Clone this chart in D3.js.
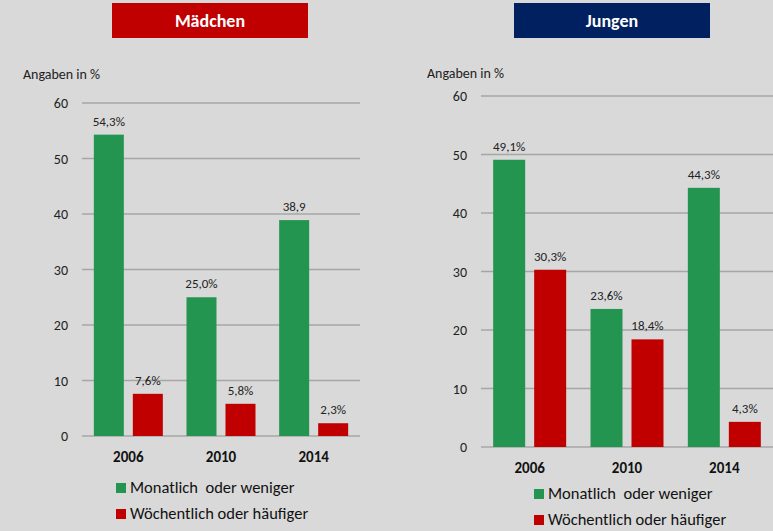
<!DOCTYPE html>
<html>
<head>
<meta charset="utf-8">
<script src="https://cdn.jsdelivr.net/npm/d3@7"></script>
<style>
  body { margin: 0; background: #d9d9d9; }
  svg { display: block; font-family: Calibri, Carlito, Lato, sans-serif; }
</style>
</head>
<body>
<svg id="chart" width="773" height="531"></svg>
<script>
// data
var years = ["2006", "2010", "2014"];
var seriesNames = ["Monatlich  oder weniger", "Wöchentlich oder häufiger"];
var yTicks = [0, 10, 20, 30, 40, 50, 60];

var maedchenMonthly = [54.3, 25.0, 38.9];
var maedchenWeekly = [7.6, 5.8, 2.3];
var maedchenLabelsMonthly = ["54,3%", "25,0%", "38,9"];
var maedchenLabelsWeekly = ["7,6%", "5,8%", "2,3%"];

var jungenMonthly = [49.1, 23.6, 44.3];
var jungenWeekly = [30.3, 18.4, 4.3];
var jungenLabelsMonthly = ["49,1%", "23,6%", "44,3%"];
var jungenLabelsWeekly = ["30,3%", "18,4%", "4,3%"];

var colors = ["#239550", "#c00000"];

var svg = d3.select("#chart");

function drawPanel(opt) {
  var g = svg.append("g");

  // title box
  g.append("rect")
    .attr("x", opt.titleX).attr("y", 3)
    .attr("width", 196).attr("height", 35)
    .attr("fill", opt.titleColor);
  g.append("text")
    .attr("x", opt.titleX + 98).attr("y", 27)
    .attr("text-anchor", "middle")
    .attr("fill", "#fff")
    .style("font-weight", "bold")
    .style("font-size", "18px")
    .text(opt.title);

  g.append("text")
    .attr("x", opt.unitX).attr("y", opt.unitY)
    .attr("fill", "#222")
    .style("font-size", "14px")
    .text("Angaben in %");

  var y = d3.scaleLinear().domain([0, 60]).range([opt.y0, opt.y60]);
  var x0 = d3.scaleBand().domain(years).range([opt.left, opt.right]);

  // gridlines
  g.selectAll(".grid")
    .data(yTicks).enter().append("line")
    .attr("x1", opt.left).attr("x2", opt.right)
    .attr("y1", function(d) { return y(d); })
    .attr("y2", function(d) { return y(d); })
    .attr("stroke", "#a6a6a6")
    .attr("stroke-width", 1.5);

  g.selectAll(".tick")
    .data(yTicks).enter().append("text")
    .attr("x", opt.left - 14)
    .attr("y", function(d) { return y(d) + 5; })
    .attr("text-anchor", "end")
    .attr("fill", "#222")
    .style("font-size", "14px")
    .text(function(d) { return d; });

  var rows = [];
  years.forEach(function(yr, i) {
    rows.push({ year: yr, s: 0, v: opt.monthly[i], label: opt.labelsMonthly[i] });
    rows.push({ year: yr, s: 1, v: opt.weekly[i], label: opt.labelsWeekly[i] });
  });

  var bw = opt.barW, gap = 9;
  function bx(d) {
    var c = x0(d.year) + x0.bandwidth() / 2;
    return d.s == 0 ? c - gap / 2 - bw : c + gap / 2;
  }

  g.selectAll(".bar")
    .data(rows).enter().append("rect")
    .attr("x", bx)
    .attr("y", function(d) { return y(d.v); })
    .attr("width", bw)
    .attr("height", function(d) { return y(0) - y(d.v); })
    .attr("fill", function(d) { return colors[d.s]; });

  g.selectAll(".lbl")
    .data(rows).enter().append("text")
    .attr("x", function(d) { return bx(d) + bw / 2; })
    .attr("y", function(d) { return y(d.v) - 9; })
    .attr("text-anchor", "middle")
    .attr("fill", "#222")
    .style("font-size", "13px")
    .text(function(d) { return d.label; });

  g.selectAll(".yr")
    .data(years).enter().append("text")
    .attr("x", function(d) { return x0(d) + x0.bandwidth() / 2; })
    .attr("y", opt.y0 + 26)
    .attr("text-anchor", "middle")
    .attr("fill", "#111")
    .style("font-weight", "bold")
    .style("font-size", "15px")
    .text(function(d) { return d; });

  // legend
  seriesNames.forEach(function(name, i) {
    var ly = opt.legendY + i * 26;
    g.append("rect")
      .attr("x", opt.legendX).attr("y", ly)
      .attr("width", 10).attr("height", 10)
      .attr("fill", colors[i]);
    g.append("text")
      .attr("x", opt.legendX + 14).attr("y", ly + 10)
      .attr("fill", "#111")
      .style("font-size", "16.5px")
      .style("white-space", "pre")
      .text(name);
  });
}

drawPanel({
  title: "Mädchen", titleX: 112, titleColor: "#c00000",
  unitX: 23, unitY: 79,
  left: 82, right: 360, y0: 436, y60: 103, barW: 30,
  monthly: maedchenMonthly, weekly: maedchenWeekly,
  labelsMonthly: maedchenLabelsMonthly, labelsWeekly: maedchenLabelsWeekly,
  legendX: 116, legendY: 483
});

drawPanel({
  title: "Jungen", titleX: 514, titleColor: "#002060",
  unitX: 427, unitY: 78,
  left: 481, right: 773, y0: 447, y60: 96, barW: 32,
  monthly: jungenMonthly, weekly: jungenWeekly,
  labelsMonthly: jungenLabelsMonthly, labelsWeekly: jungenLabelsWeekly,
  legendX: 534, legendY: 489
});
</script>
</body>
</html>
